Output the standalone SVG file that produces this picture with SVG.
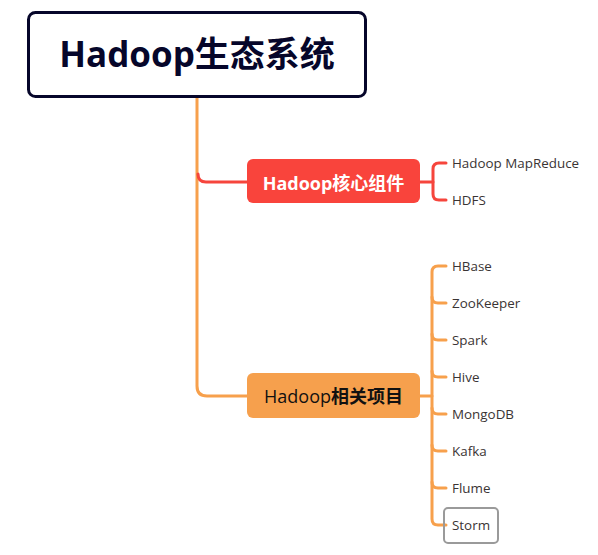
<svg xmlns="http://www.w3.org/2000/svg" width="598" height="555" viewBox="0 0 598 555">
<style>
.t{font-family:"Open Sans","Noto Sans CJK SC",sans-serif}
.leaf{font-size:13.4px;fill:#3a3434}
.or{fill:none;stroke:#f7a04c;stroke-width:3;stroke-linecap:round}
.rd{fill:none;stroke:#f6453c;stroke-width:3;stroke-linecap:round}
</style>
<rect width="598" height="555" fill="#fff"/>
<g id="connectors">
<path class="or" d="M197,97 V386 Q197,396 207,396 H247"/>
<path class="rd" d="M198,174 Q198,182 206,182 H247"/>
<path class="rd" d="M420,182 H433"/>
<path class="rd" d="M446,163 H439 Q433,163 433,169 V194 Q433,200 439,200 H446"/>
<path class="or" d="M420,396 H432"/>
<path class="or" d="M446,266 H438 Q432,266 432,272 V519 Q432,525 438,525 H446"/>
<path class="or" d="M432,297 Q432,303 438,303 H446"/>
<path class="or" d="M432,334 Q432,340 438,340 H446"/>
<path class="or" d="M432,371 Q432,377 438,377 H446"/>
<path class="or" d="M432,408 Q432,414 438,414 H446"/>
<path class="or" d="M432,445 Q432,451 438,451 H446"/>
<path class="or" d="M432,482 Q432,488 438,488 H446"/>
</g>
<g id="root">
<rect x="28.5" y="12.5" width="337" height="84" rx="7" fill="#fff" stroke="#06062a" stroke-width="3"/>
<text class="t" x="197" y="67" text-anchor="middle" font-size="35" font-weight="bold" fill="#06062a">Hadoop生态系统</text>
</g>
<g id="core">
<rect x="247" y="159" width="173" height="44" rx="6" fill="#f9443c"/>
<text class="t" x="333.5" y="190" text-anchor="middle" font-size="18" font-weight="bold" fill="#fff">Hadoop核心组件</text>
</g>
<g id="related">
<rect x="247" y="373" width="173" height="45" rx="6" fill="#f6a04d"/>
<text class="t" x="333.5" y="403" text-anchor="middle" font-size="18" fill="#111">Hadoop<tspan font-weight="bold">相关项目</tspan></text>
</g>
<g id="mapreduce"><text class="t leaf" x="452" y="168">Hadoop MapReduce</text></g>
<g id="hdfs"><text class="t leaf" x="452" y="205">HDFS</text></g>
<g id="hbase"><text class="t leaf" x="452" y="271">HBase</text></g>
<g id="zookeeper"><text class="t leaf" x="452" y="308">ZooKeeper</text></g>
<g id="spark"><text class="t leaf" x="452" y="345">Spark</text></g>
<g id="hive"><text class="t leaf" x="452" y="382">Hive</text></g>
<g id="mongodb"><text class="t leaf" x="452" y="419">MongoDB</text></g>
<g id="kafka"><text class="t leaf" x="452" y="456">Kafka</text></g>
<g id="flume"><text class="t leaf" x="452" y="493">Flume</text></g>
<g id="storm">
<rect x="444" y="508" width="54" height="35" rx="4" fill="none" stroke="#9a9a9a" stroke-width="2"/>
<text class="t leaf" x="452" y="530">Storm</text>
</g>
</svg>
